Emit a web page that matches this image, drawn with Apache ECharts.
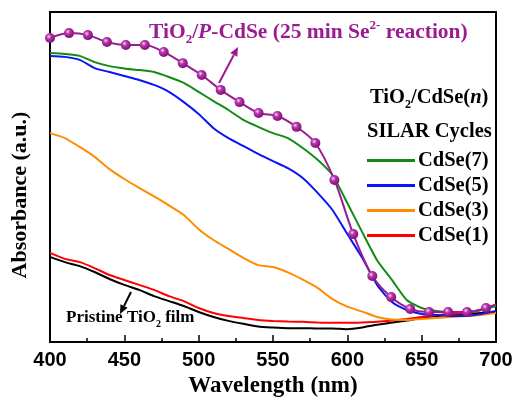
<!DOCTYPE html>
<html>
<head>
<meta charset="utf-8">
<script src="https://cdn.jsdelivr.net/npm/echarts@6/dist/echarts.min.js"></script>
<style>
  html, body { margin: 0; padding: 0; background: #fff; }
  #chart { width: 516px; height: 405px; }
</style>
</head>
<body>
<div id="chart"></div>
<script>
// wavelength grid (nm) for the SILAR curves
const wavelength = [400, 410, 420, 430, 440, 450, 460, 470, 480, 490, 500, 510, 520, 530, 540, 550,
  560, 570, 580, 590, 600, 610, 620, 630, 640, 650, 660, 670, 680, 690, 700];

// absorbance (a.u.)
const pristine = [25.8, 24.2, 23.0, 21.2, 19.1, 17.3, 15.8, 13.9, 12.4, 10.9, 9.1, 7.6, 6.4, 5.5, 4.7, 4.4,
  4.2, 4.2, 4.1, 4.1, 3.9, 4.4, 5.2, 5.9, 6.5, 7.3, 7.9, 8.2, 8.5, 8.8, 9.1];
const cdse1 = [27.0, 25.2, 24.2, 22.4, 20.3, 18.8, 17.3, 15.8, 13.9, 12.4, 10.3, 8.8, 7.9, 7.3, 6.7, 6.4,
  6.2, 6.1, 5.9, 5.8, 5.8, 5.9, 6.1, 6.5, 7.0, 7.6, 8.2, 8.5, 8.8, 9.7, 11.2];
const cdse3 = [63.3, 61.8, 59.1, 56.1, 52.4, 49.4, 46.7, 44.1, 41.4, 38.5, 34.2, 30.9, 28.2, 25.5, 23.3, 22.7,
  21.1, 18.9, 16.4, 13.0, 10.7, 9.2, 7.6, 6.8, 6.7, 7.0, 7.3, 7.6, 7.9, 8.2, 8.8];
const cdse5 = [86.7, 86.4, 85.5, 83.0, 81.8, 80.6, 79.4, 77.9, 75.8, 72.7, 69.1, 64.8, 61.8, 59.4, 57.0, 54.8,
  52.7, 49.7, 45.2, 40.0, 32.7, 25.5, 17.3, 12.1, 9.7, 8.5, 8.2, 7.9, 7.9, 8.5, 9.4];
const cdse7 = [87.6, 87.3, 86.7, 84.8, 83.6, 82.9, 82.4, 81.8, 80.3, 78.5, 75.8, 73.0, 70.3, 67.3, 65.2, 63.3,
  61.8, 58.8, 55.2, 50.6, 42.1, 33.3, 24.8, 18.8, 12.7, 10.3, 9.4, 9.1, 9.1, 9.7, 10.9];

// P-CdSe curve, sampled at its markers
const pWavelength = [400, 412.8, 425.5, 438.3, 451, 463.8, 476.5, 489.3, 502, 514.8, 527.5, 540.3,
  553, 565.8, 578.5, 591.3, 604, 616.8, 629.5, 642.3, 655, 667.8, 680.5, 693.3, 700];
const pCdse = [92.1, 93.6, 93.0, 90.9, 90.0, 90.0, 87.9, 84.5, 80.9, 76.4, 72.7, 69.4,
  68.5, 65.2, 60.3, 49.1, 32.7, 20.0, 13.6, 10.0, 9.1, 9.1, 9.1, 10.3, 11.5];

const serif = 'Liberation Serif';
const purple = '#9b1b91';

const chart = echarts.init(document.getElementById('chart'));

function pairs(xs, ys) {
  return xs.map((x, i) => [x, ys[i]]);
}

function line(name, data, color) {
  return {
    name: name,
    type: 'line',
    data: pairs(wavelength, data),
    symbol: 'none',
    smooth: 0.2,
    lineStyle: { color: color, width: 2 },
    itemStyle: { color: color }
  };
}

// arrow made of a line and a triangle head
function arrow(x1, y1, x2, y2, color) {
  const len = Math.hypot(x2 - x1, y2 - y1);
  const dx = (x2 - x1) / len, dy = (y2 - y1) / len;
  const bx = x2 - dx * 9, by = y2 - dy * 9;
  return {
    type: 'group',
    children: [
      { type: 'line', shape: { x1: x1, y1: y1, x2: bx, y2: by }, style: { stroke: color, lineWidth: 2 } },
      {
        type: 'polygon',
        shape: { points: [[x2, y2], [bx - dy * 4, by + dx * 4], [bx + dy * 4, by - dx * 4]] },
        style: { fill: color }
      }
    ]
  };
}

const subRich = (size, color) => ({
  b: { fontFamily: serif, fontWeight: 'bold', fontSize: size, lineHeight: size + 6, fill: color },
  i: { fontFamily: serif, fontWeight: 'bold', fontStyle: 'italic', fontSize: size, lineHeight: size + 6, fill: color },
  sub: { fontFamily: serif, fontWeight: 'bold', fontSize: Math.round(size * 0.6), lineHeight: Math.round(size * 0.6), verticalAlign: 'bottom', fill: color },
  sup: { fontFamily: serif, fontWeight: 'bold', fontSize: Math.round(size * 0.6), lineHeight: Math.round(size * 0.6), verticalAlign: 'top', fill: color }
});

const option = {
  animation: false,
  backgroundColor: '#fff',
  grid: {
    left: 50, right: 20, top: 12, bottom: 63,
    show: true, borderColor: '#000', borderWidth: 2
  },
  xAxis: {
    type: 'value',
    min: 400, max: 700, interval: 50,
    name: 'Wavelength (nm)',
    nameLocation: 'middle',
    nameGap: 31,
    nameTextStyle: { fontFamily: serif, fontWeight: 'bold', fontSize: 23, color: '#000' },
    axisLine: { lineStyle: { color: '#000', width: 2 } },
    axisTick: { inside: true, length: 7, lineStyle: { color: '#000', width: 1.5 } },
    minorTick: { show: true, splitNumber: 2, length: 4, lineStyle: { color: '#000', width: 1.5 } },
    axisLabel: { margin: 8, fontFamily: 'Liberation Sans', fontWeight: 'bold', fontSize: 20, color: '#000' },
    splitLine: { show: false }
  },
  yAxis: {
    type: 'value',
    min: 0, max: 100,
    axisLine: { show: false },
    axisTick: { show: false },
    axisLabel: { show: false },
    splitLine: { show: false }
  },
  legend: {
    data: ['CdSe(7)', 'CdSe(5)', 'CdSe(3)', 'CdSe(1)'],
    orient: 'vertical',
    left: 367, top: 150,
    padding: 0,
    itemGap: 4,
    itemWidth: 48, itemHeight: 3,
    icon: 'rect',
    textStyle: { fontFamily: serif, fontWeight: 'bold', fontSize: 20.5, color: '#000', lineHeight: 21, padding: [0, 0, 0, -2] }
  },
  series: [
    line('Pristine TiO2 film', pristine, '#000000'),
    line('CdSe(1)', cdse1, '#ff0000'),
    line('CdSe(3)', cdse3, '#ff8c00'),
    line('CdSe(5)', cdse5, '#0a14f5'),
    line('CdSe(7)', cdse7, '#138a13'),
    {
      name: 'TiO2/P-CdSe',
      type: 'line',
      data: pairs(pWavelength, pCdse).map((p, i) => i === pWavelength.length - 1 ? { value: p, symbol: 'none' } : p),
      smooth: 0.3,
      symbol: 'circle',
      symbolSize: 10,
      lineStyle: { color: purple, width: 2 },
      itemStyle: {
        color: {
          type: 'radial', x: 0.38, y: 0.35, r: 0.7,
          colorStops: [
            { offset: 0, color: '#f4d6f1' },
            { offset: 0.35, color: '#b434aa' },
            { offset: 1, color: '#7a0c72' }
          ]
        }
      },
      z: 5
    }
  ],
  graphic: [
    {
      type: 'text',
      x: 20, y: 195, rotation: Math.PI / 2,
      style: {
        text: 'Absorbance (a.u.)',
        fontFamily: serif, fontWeight: 'bold', fontSize: 22, fill: '#000',
        align: 'center', verticalAlign: 'middle'
      }
    },
    {
      type: 'text', left: 149, top: 19,
      style: {
        text: '{b|TiO}{sub|2}{b|/}{i|P}{b|-CdSe (25 min Se}{sup|2-}{b| reaction)}',
        rich: subRich(21.5, purple)
      }
    },
    arrow(219, 83, 238, 47, purple),
    {
      type: 'text', left: 370, top: 87,
      style: {
        text: '{b|TiO}{sub|2}{b|/CdSe(}{i|n}{b|)}',
        rich: subRich(20.5, '#000')
      }
    },
    {
      type: 'text', left: 367, top: 121,
      style: {
        text: '{b|SILAR Cycles}',
        rich: subRich(20.5, '#000')
      }
    },
    {
      type: 'text', left: 66, top: 309,
      style: {
        text: '{b|Pristine TiO}{sub|2}{b| film}',
        rich: subRich(17, '#000')
      }
    },
    arrow(131, 292, 120, 314, '#000')
  ]
};

chart.setOption(option);
</script>
</body>
</html>
